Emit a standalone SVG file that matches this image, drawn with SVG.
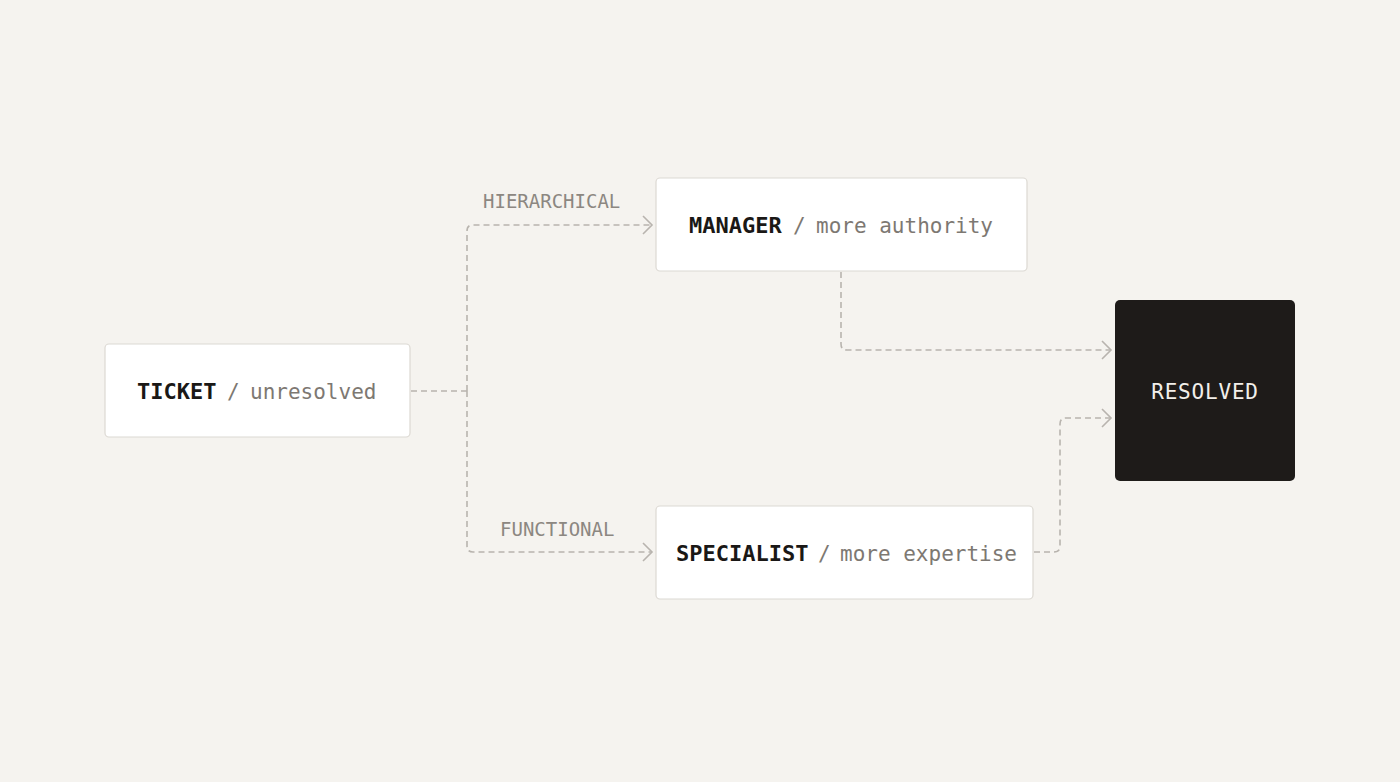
<svg xmlns="http://www.w3.org/2000/svg" width="1400" height="782" viewBox="0 0 1400 782">
  <defs>
    <style>
      .box { fill: #ffffff; stroke: #dcd9d3; stroke-width: 1.2; }
      .dark { fill: #1e1b19; }
      .t { font-family: "DejaVu Sans Mono", "Liberation Mono", monospace; font-size: 21px; }
      .b { font-weight: bold; font-size: 22px; fill: #1a1816; }
      .s { fill: #7d7872; }
      .lbl { font-family: "DejaVu Sans Mono", "Liberation Mono", monospace; font-size: 19px; fill: #8c8781; }
      .res { font-family: "DejaVu Sans Mono", "Liberation Mono", monospace; font-size: 21px; fill: #f2efea; letter-spacing: 0.8px; }
      .c { fill: none; stroke: #b8b4ae; stroke-width: 1.6; stroke-dasharray: 6 4; }
    </style>
    <marker id="arr" markerUnits="userSpaceOnUse" markerWidth="14" markerHeight="22" refX="10" refY="10" orient="auto">
      <path d="M1,1 L10,10 L1,19" fill="none" stroke="#b8b4ae" stroke-width="1.6"/>
    </marker>
  </defs>
  <rect width="1400" height="782" fill="#f5f3ef"/>

  <g id="connectors">
    <path class="c" d="M411,391 H467"/>
    <path class="c" d="M467,391 V231 Q467,225 473,225 H652" marker-end="url(#arr)"/>
    <path class="c" d="M467,391 V546 Q467,552 473,552 H652" marker-end="url(#arr)"/>
    <path class="c" d="M841,272 V344 Q841,350 847,350 H1111" marker-end="url(#arr)"/>
    <path class="c" d="M1034,552 H1054 Q1060,552 1060,546 V424 Q1060,418 1066,418 H1111" marker-end="url(#arr)"/>
  </g>

  <g id="labels">
    <text class="lbl" x="483" y="208">HIERARCHICAL</text>
    <text class="lbl" x="500" y="536">FUNCTIONAL</text>
  </g>

  <g id="ticket">
    <rect class="box" x="105" y="344" width="305" height="93" rx="4"/>
    <text class="t" y="399"><tspan class="b" x="137">TICKET</tspan><tspan class="s" x="227">/</tspan><tspan class="s" x="250">unresolved</tspan></text>
  </g>

  <g id="manager">
    <rect class="box" x="656" y="178" width="371" height="93" rx="4"/>
    <text class="t" y="233"><tspan class="b" x="689">MANAGER</tspan><tspan class="s" x="793">/</tspan><tspan class="s" x="816">more authority</tspan></text>
  </g>

  <g id="specialist">
    <rect class="box" x="656" y="506" width="377" height="93" rx="4"/>
    <text class="t" y="561"><tspan class="b" x="676">SPECIALIST</tspan><tspan class="s" x="818">/</tspan><tspan class="s" x="840">more expertise</tspan></text>
  </g>

  <g id="resolved">
    <rect class="dark" x="1115" y="300" width="180" height="181" rx="5"/>
    <text class="res" x="1205" y="399" text-anchor="middle">RESOLVED</text>
  </g>
</svg>
